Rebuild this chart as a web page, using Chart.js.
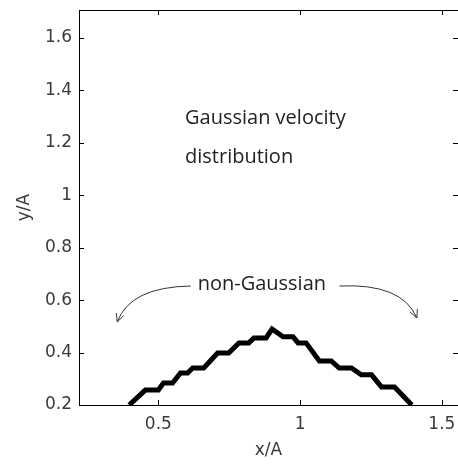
<!DOCTYPE html>
<html>
<head>
<meta charset="utf-8">
<script src="https://cdn.jsdelivr.net/npm/chart.js@4.4.1/dist/chart.umd.min.js"></script>
<style>
  html, body { margin: 0; padding: 0; background: #fff; }
  #wrap { width: 458px; height: 465px; }
</style>
</head>
<body>
<div id="wrap"><canvas id="chart" width="458" height="465"></canvas></div>
<script>
// curve (x/A, y/A)
const curveX = [0.397, 0.454, 0.500, 0.518, 0.550, 0.578, 0.603, 0.621, 0.660, 0.709, 0.748, 0.784, 0.819, 0.837, 0.880,
                0.901, 0.940, 0.975, 0.993, 1.021, 1.068, 1.110, 1.138, 1.181, 1.216, 1.252, 1.287, 1.333, 1.394];
const curveY = [0.200, 0.257, 0.257, 0.284, 0.284, 0.322, 0.322, 0.341, 0.341, 0.398, 0.398, 0.437, 0.437, 0.456, 0.456,
                0.490, 0.460, 0.460, 0.437, 0.437, 0.368, 0.368, 0.341, 0.341, 0.315, 0.315, 0.269, 0.269, 0.200];

const xTicks = [0.5, 1, 1.5];
const yTicks = [0.2, 0.4, 0.6, 0.8, 1, 1.2, 1.4, 1.6];

const tickFont = { family: '"DejaVu Sans", sans-serif', size: 17 };
const noteFont = '20px "Open Sans", "Noto Sans", sans-serif';

// draws the box top, the inner ticks, the notes and the arrows
const decorations = {
    id: 'decorations',
    afterDraw(chart) {
        const ctx = chart.ctx;
        const area = chart.chartArea;
        const xs = chart.scales.x;
        const ys = chart.scales.y;

        ctx.save();
        ctx.strokeStyle = '#000';
        ctx.lineWidth = 1;
        ctx.beginPath();
        ctx.moveTo(area.left, area.top + 0.5);
        ctx.lineTo(area.right, area.top + 0.5);
        // inner ticks
        xTicks.forEach(v => {
            const px = Math.round(xs.getPixelForValue(v)) + 0.5;
            ctx.moveTo(px, area.bottom); ctx.lineTo(px, area.bottom - 5);
            ctx.moveTo(px, area.top); ctx.lineTo(px, area.top + 5);
        });
        yTicks.forEach(v => {
            const py = Math.round(ys.getPixelForValue(v)) + 0.5;
            ctx.moveTo(area.left, py); ctx.lineTo(area.left + 5, py);
            ctx.moveTo(area.right, py); ctx.lineTo(area.right - 5, py);
        });
        ctx.stroke();

        // notes
        ctx.fillStyle = '#222';
        ctx.font = noteFont;
        ctx.textBaseline = 'middle';
        ctx.textAlign = 'left';
        ctx.fillText('Gaussian velocity', xs.getPixelForValue(0.594), ys.getPixelForValue(1.295));
        ctx.fillText('distribution', xs.getPixelForValue(0.594), ys.getPixelForValue(1.146));
        ctx.textAlign = 'center';
        ctx.fillText('non-Gaussian', xs.getPixelForValue(0.865), ys.getPixelForValue(0.662));

        // curved arrows
        const arrow = (x0, y0, cx, cy, x1, y1) => {
            const p0 = [xs.getPixelForValue(x0), ys.getPixelForValue(y0)];
            const pc = [xs.getPixelForValue(cx), ys.getPixelForValue(cy)];
            const p1 = [xs.getPixelForValue(x1), ys.getPixelForValue(y1)];
            ctx.strokeStyle = '#333';
            ctx.lineWidth = 1;
            ctx.beginPath();
            ctx.moveTo(p0[0], p0[1]);
            ctx.quadraticCurveTo(pc[0], pc[1], p1[0], p1[1]);
            ctx.stroke();
            const ang = Math.atan2(p1[1] - pc[1], p1[0] - pc[0]);
            const len = 9;
            ctx.beginPath();
            ctx.moveTo(p1[0] - len * Math.cos(ang - 0.45), p1[1] - len * Math.sin(ang - 0.45));
            ctx.lineTo(p1[0], p1[1]);
            ctx.lineTo(p1[0] - len * Math.cos(ang + 0.45), p1[1] - len * Math.sin(ang + 0.45));
            ctx.stroke();
        };
        arrow(0.614, 0.654, 0.40, 0.650, 0.355, 0.517);
        arrow(1.139, 0.654, 1.36, 0.665, 1.412, 0.532);
        ctx.restore();
    }
};

new Chart(document.getElementById('chart'), {
    type: 'scatter',
    data: {
        datasets: [{
            data: curveX.map((x, i) => ({ x: x, y: curveY[i] })),
            showLine: true,
            borderColor: '#000',
            borderWidth: 5,
            pointRadius: 0,
            tension: 0,
            borderJoinStyle: 'miter'
        }]
    },
    options: {
        responsive: false,
        animation: false,
        layout: { padding: { top: 10, right: 0, left: 0, bottom: 0 } },
        plugins: { legend: { display: false }, tooltip: { enabled: false } },
        scales: {
            x: {
                type: 'linear',
                min: 0.22,
                max: 1.557,
                afterBuildTicks: s => { s.ticks = xTicks.map(v => ({ value: v })); },
                afterFit: s => { s.height = 60; s.paddingLeft = 0; s.paddingRight = 0; },
                grid: { drawOnChartArea: false, drawTicks: false },
                border: { color: '#000', width: 1 },
                ticks: { font: tickFont, color: '#3a3a3a', padding: 9, maxRotation: 0, callback: v => String(v) },
                title: { display: true, text: 'x/A', font: tickFont, color: '#3a3a3a', padding: { top: 0, bottom: 4 } }
            },
            y: {
                min: 0.2,
                max: 1.707,
                afterBuildTicks: s => { s.ticks = yTicks.map(v => ({ value: v })); },
                afterFit: s => { s.width = 79; s.paddingTop = 0; s.paddingBottom = 0; },
                grid: { drawOnChartArea: false, drawTicks: false },
                border: { color: '#000', width: 1 },
                ticks: { font: tickFont, color: '#3a3a3a', padding: 7, callback: v => String(v) },
                title: { display: true, text: 'y/A', font: tickFont, color: '#3a3a3a', padding: { top: 14, bottom: 0 } }
            }
        }
    },
    plugins: [decorations]
});
</script>
</body>
</html>
